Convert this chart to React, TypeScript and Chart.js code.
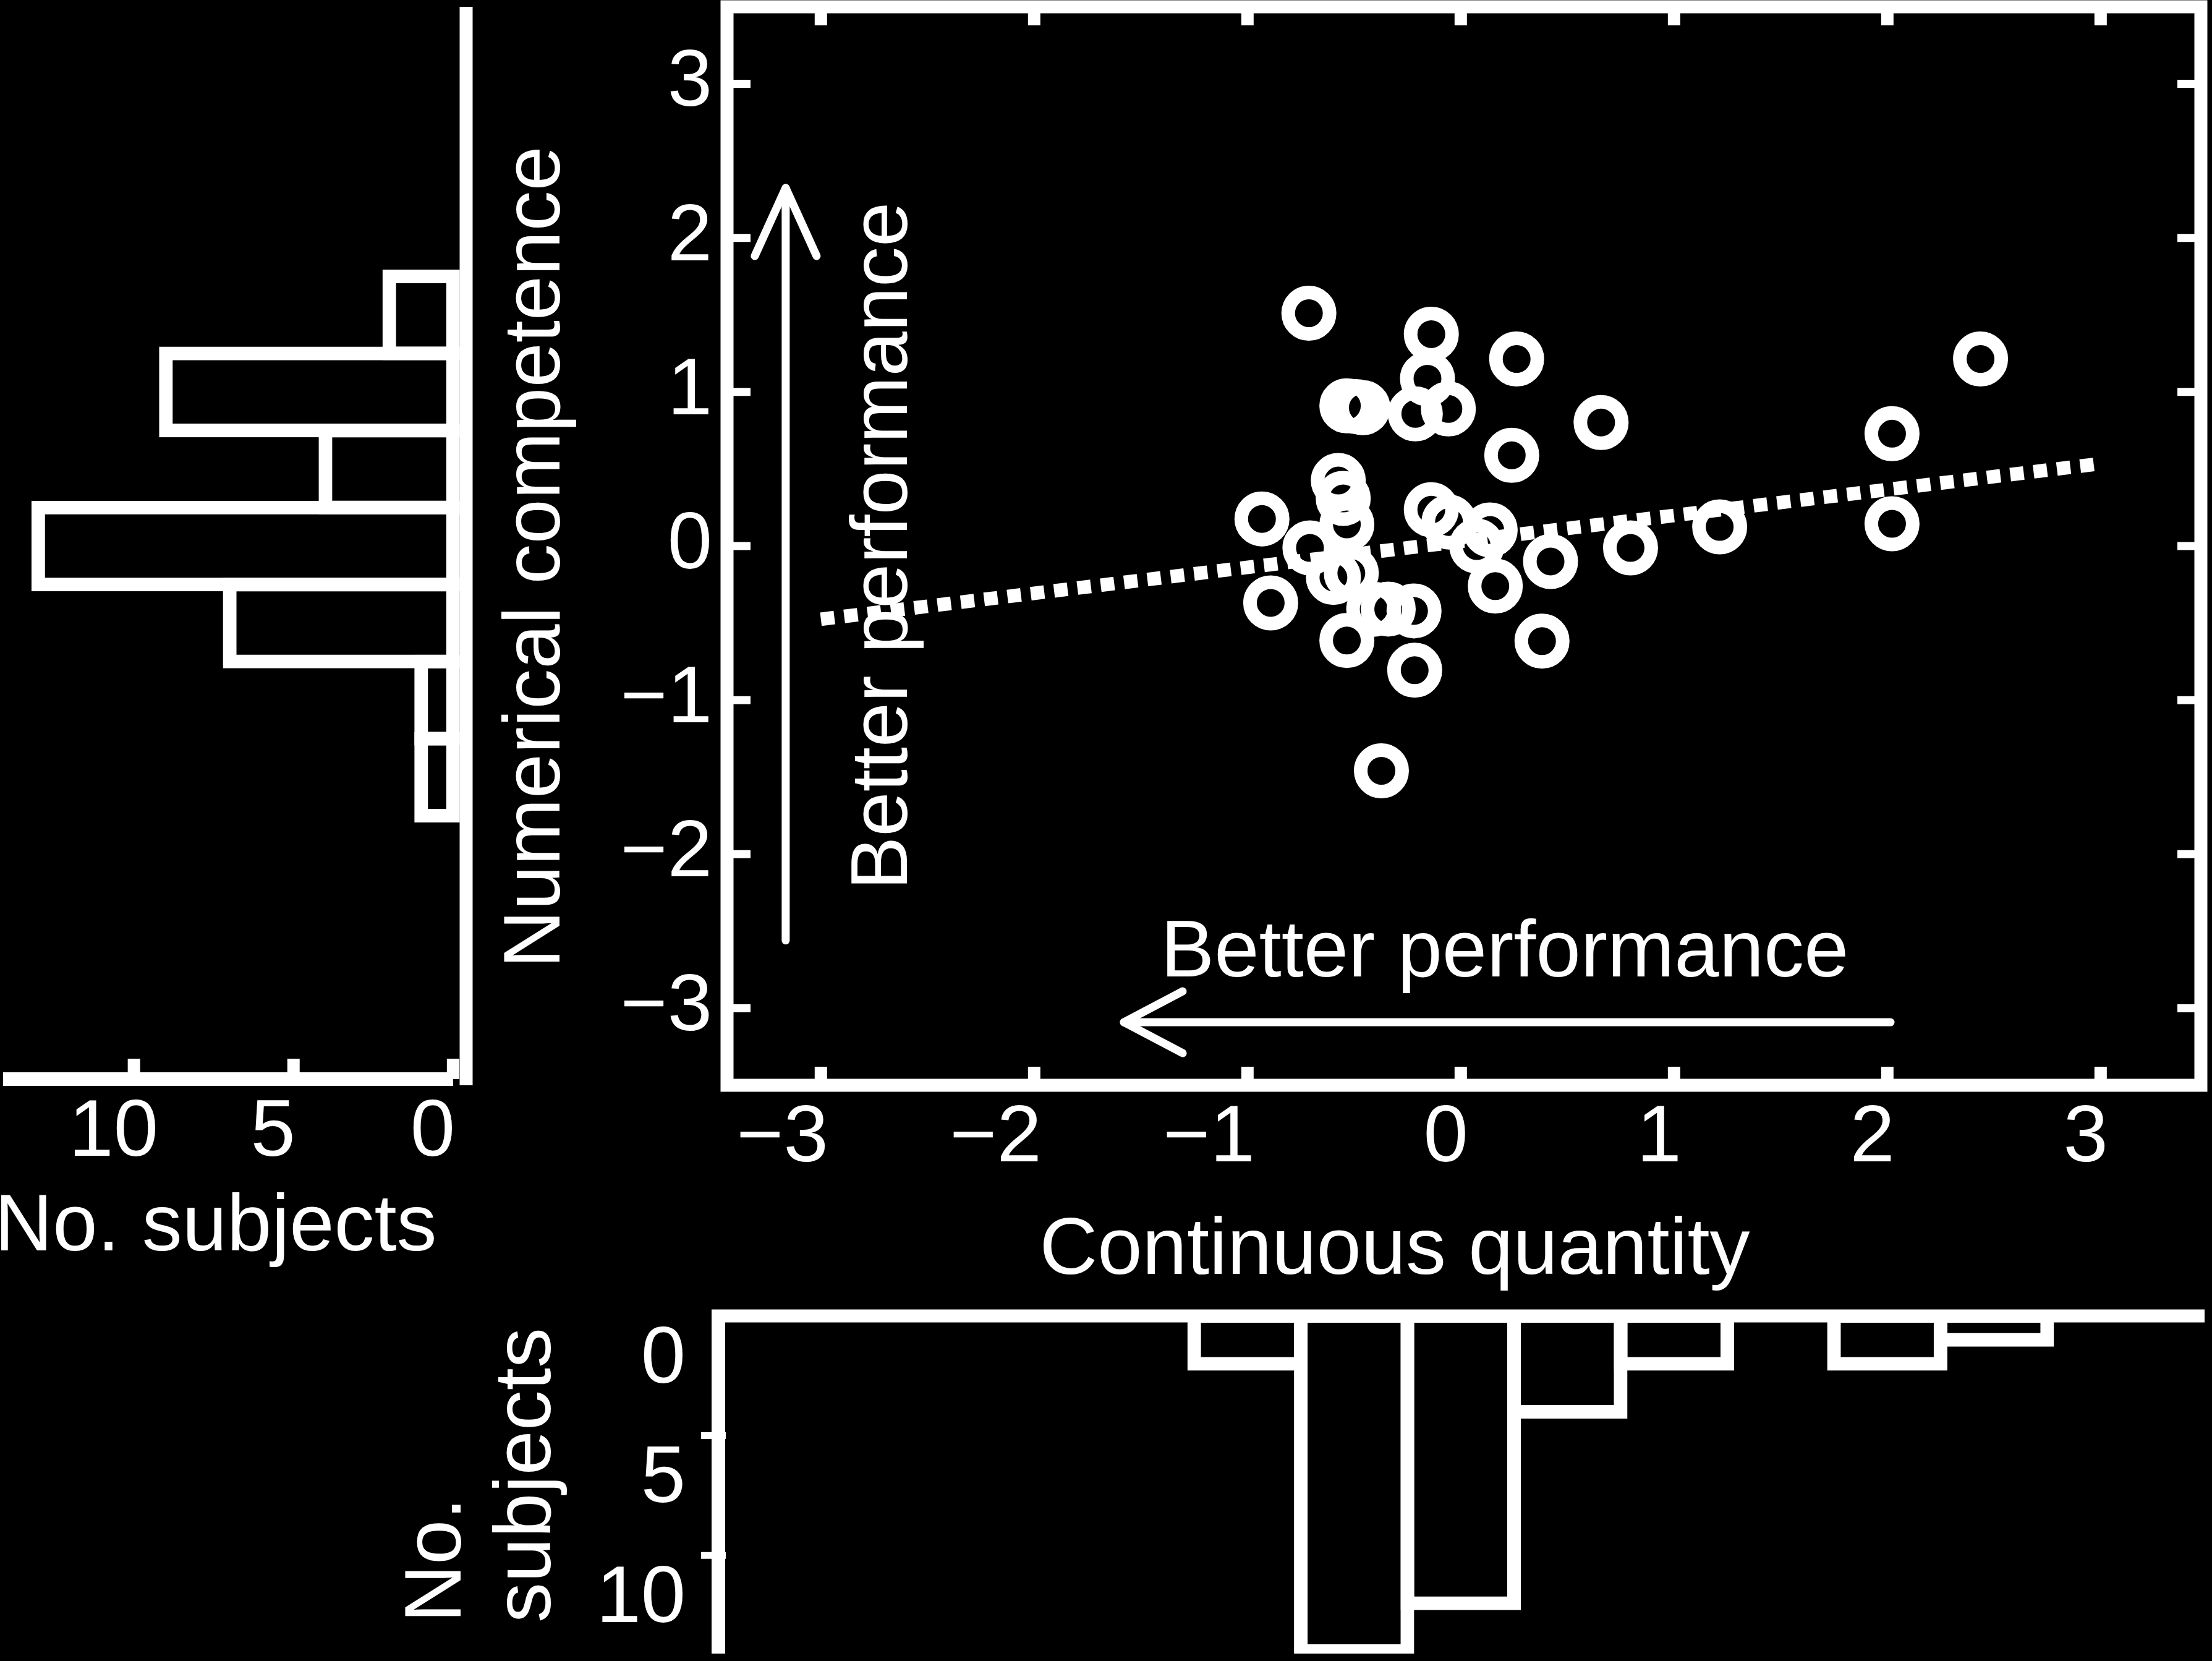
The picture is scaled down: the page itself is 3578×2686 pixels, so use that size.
import React, { useEffect, useRef } from 'react';
import { Chart, registerables } from 'chart.js';

Chart.register(...registerables);

// ---------------- data ----------------
const continuousQuantity = [
  -0.712, -0.138, 0.262, -0.156, -0.534, -0.49, -0.459, -0.213, -0.058, 0.658,
  0.239, -0.574, -0.551, -0.534, -0.932, -0.138, -0.055, 0.138, 0.075, -0.707,
  -0.597, -0.513, 0.162, 0.421, 0.796, 1.214, -0.891, -0.408, -0.34, -0.219,
  -0.534, 0.381, -0.216, -0.372, 2.022, 2.022, 2.437,
];
const numericalCompetence = [
  1.511, 1.375, 1.214, 1.086, 0.91, 0.905, 0.898, 0.858, 0.89, 0.802,
  0.589, 0.425, 0.309, 0.14, 0.176, 0.236, 0.156, 0.104, 0.0, -0.012,
  -0.204, -0.176, -0.26, -0.1, -0.012, 0.124, -0.369, -0.41, -0.409, -0.421,
  -0.613, -0.617, -0.806, -1.459, 0.729, 0.144, 1.214,
];

const fitX = [-3.0, 2.97];
const fitY = [-0.475, 0.53];

const yBinCenters = [1.5, 1.0, 0.5, 0.0, -0.5, -1.0, -1.5];
const yBinCounts = [2, 9, 4, 13, 7, 1, 1];
const xBinCenters = [-1.0, -0.5, 0.0, 0.5, 1.0, 1.5, 2.0, 2.5];
const xBinCounts = [2, 14, 12, 4, 2, 0, 2, 1];

const mainTicks = [-3, -2, -1, 0, 1, 2, 3];
const mainTickLabels = ['\u22123', '\u22122', '\u22121', '0', '1', '2', '3'];
const countTicks = [0, 5, 10];
const countTickLabels = ['0', '5', '10'];

const xTitle = 'Continuous quantity';
const yTitle = 'Numerical competence';
const countTitle = 'No. subjects';
const countTitleLines = ['No.', 'subjects'];
const arrowText = 'Better performance';

// annotation anchors in data units of the scatter panel
const verticalArrow = { x: -3.165, yFrom: -2.56, yTo: 2.324 };
const horizontalArrow = { y: -3.091, xFrom: 2.015, xTo: -1.579 };
const horizontalTextAnchor = { x: 0.206, y: -2.794 };
const verticalTextAnchor = { x: -2.597, y: 0.0 };

// ---------------- layout / style ----------------
const PAGE_W = 3578;
const PAGE_H = 2686;
const FONT_FAMILY = '"Liberation Sans", Arial, Helvetica, sans-serif';
const FONT_SIZE = 130;
const WHITE = '#ffffff';
const FONT_CSS = `${FONT_SIZE}px ${FONT_FAMILY}`;

const MAIN_AREA = { left: 1176, right: 3560, top: 11, bottom: 1755 };
const LEFT_AREA = { left: 5, right: 754, top: 11, bottom: 1745 };
const BOTTOM_AREA = { left: 1162, right: 3566, top: 2128, bottom: 2674 };

const fixedTicks = (values: number[]) => (scale: any) => {
  scale.ticks = values.map((v) => ({ value: v }));
};
const fixSize = (size: number) => (scale: any) => {
  if (scale.isHorizontal()) scale.height = size;
  else scale.width = size;
  scale.paddingLeft = 0;
  scale.paddingRight = 0;
  scale.paddingTop = 0;
  scale.paddingBottom = 0;
};

function strokeLine(ctx: CanvasRenderingContext2D, x1: number, y1: number, x2: number, y2: number) {
  ctx.beginPath();
  ctx.moveTo(x1, y1);
  ctx.lineTo(x2, y2);
  ctx.stroke();
}

function rotatedText(ctx: CanvasRenderingContext2D, text: string, x: number, y: number, align: CanvasTextAlign) {
  ctx.save();
  ctx.translate(x, y);
  ctx.rotate(-Math.PI / 2);
  ctx.textAlign = align;
  ctx.textBaseline = 'alphabetic';
  ctx.fillText(text, 0, 0);
  ctx.restore();
}

const tickFont = { family: FONT_FAMILY, size: FONT_SIZE };
const noGrid = { display: false, drawTicks: false };
const noBorder = { display: false };

const common = {
  responsive: false,
  maintainAspectRatio: false,
  animation: false as const,
  devicePixelRatio: 1,
  events: [] as any[],
  plugins: { legend: { display: false }, tooltip: { enabled: false }, title: { display: false } },
};

// ---------------- main scatter ----------------
function mainConfig(): any {
  const decor = {
    id: 'mainDecor',
    afterDraw(chart: any) {
      const { ctx, chartArea: a } = chart;
      const xs = chart.scales.x;
      const ys = chart.scales.y;
      ctx.save();
      ctx.strokeStyle = WHITE;
      ctx.fillStyle = WHITE;
      ctx.lineJoin = 'miter';
      ctx.lineWidth = 21;
      ctx.strokeRect(a.left, a.top, a.right - a.left, a.bottom - a.top);
      ctx.lineCap = 'butt';
      ctx.lineWidth = 20;
      mainTicks.forEach((v) => {
        const px = xs.getPixelForValue(v);
        strokeLine(ctx, px, a.bottom, px, a.bottom - 30);
        strokeLine(ctx, px, a.top, px, a.top + 30);
      });
      ctx.lineWidth = 13;
      mainTicks.forEach((v) => {
        const py = ys.getPixelForValue(v);
        strokeLine(ctx, a.left, py, a.left + 38, py);
        strokeLine(ctx, a.right, py, a.right - 38, py);
      });

      // arrows
      ctx.lineWidth = 13;
      ctx.lineCap = 'round';
      ctx.lineJoin = 'round';
      const vx = xs.getPixelForValue(verticalArrow.x);
      const vy0 = ys.getPixelForValue(verticalArrow.yFrom);
      const vy1 = ys.getPixelForValue(verticalArrow.yTo);
      strokeLine(ctx, vx, vy0, vx, vy1);
      ctx.beginPath();
      ctx.moveTo(vx - 50, vy1 + 110);
      ctx.lineTo(vx, vy1);
      ctx.lineTo(vx + 50, vy1 + 110);
      ctx.stroke();

      const hy = ys.getPixelForValue(horizontalArrow.y);
      const hx0 = xs.getPixelForValue(horizontalArrow.xFrom);
      const hx1 = xs.getPixelForValue(horizontalArrow.xTo);
      strokeLine(ctx, hx0, hy, hx1, hy);
      ctx.beginPath();
      ctx.moveTo(hx1 + 95, hy - 50);
      ctx.lineTo(hx1, hy);
      ctx.lineTo(hx1 + 95, hy + 50);
      ctx.stroke();

      // texts
      ctx.font = FONT_CSS;
      ctx.textAlign = 'center';
      ctx.textBaseline = 'alphabetic';
      ctx.fillText(arrowText, xs.getPixelForValue(horizontalTextAnchor.x), ys.getPixelForValue(horizontalTextAnchor.y));
      rotatedText(ctx, arrowText, xs.getPixelForValue(verticalTextAnchor.x), ys.getPixelForValue(verticalTextAnchor.y), 'center');

      // axis titles
      ctx.fillText(xTitle, (a.left + a.right) / 2 - 112, a.bottom + 305);
      rotatedText(ctx, yTitle, a.left - 271, (a.top + a.bottom) / 2 + 18, 'center');
      ctx.restore();
    },
  };

  return {
    type: 'scatter',
    data: {
      datasets: [
        {
          type: 'scatter',
          data: continuousQuantity.map((x, i) => ({ x, y: numericalCompetence[i] })),
          pointStyle: 'circle',
          pointRadius: 33.5,
          pointHoverRadius: 33.5,
          pointBorderWidth: 22,
          pointHoverBorderWidth: 22,
          pointBorderColor: WHITE,
          pointBackgroundColor: 'rgba(0,0,0,0)',
        },
        {
          type: 'line',
          data: fitX.map((x, i) => ({ x, y: fitY[i] })),
          borderColor: WHITE,
          borderWidth: 22,
          borderDash: [22, 16],
          borderCapStyle: 'butt',
          pointRadius: 0,
          fill: false,
          tension: 0,
        },
      ],
    },
    options: {
      ...common,
      layout: {
        autoPadding: false,
        padding: {
          left: MAIN_AREA.left - 300,
          right: PAGE_W - MAIN_AREA.right,
          top: MAIN_AREA.top,
          bottom: PAGE_H - MAIN_AREA.bottom - 300,
        },
      },
      scales: {
        x: {
          type: 'linear',
          position: 'bottom',
          min: -3.44,
          max: 3.47,
          grid: noGrid,
          border: noBorder,
          afterBuildTicks: fixedTicks(mainTicks),
          afterFit: fixSize(300),
          ticks: {
            color: WHITE,
            font: tickFont,
            padding: 9,
            align: 'end',
            labelOffset: 12,
            maxRotation: 0,
            minRotation: 0,
            autoSkip: false,
            callback: (_v: any, i: number) => mainTickLabels[i],
          },
        },
        y: {
          type: 'linear',
          position: 'left',
          min: -3.5,
          max: 3.5,
          grid: noGrid,
          border: noBorder,
          afterBuildTicks: fixedTicks(mainTicks),
          afterFit: fixSize(300),
          ticks: {
            color: WHITE,
            font: tickFont,
            padding: 24,
            autoSkip: false,
            callback: (_v: any, i: number) => mainTickLabels[i],
          },
        },
      },
    },
    plugins: [decor],
  };
}

// ---------------- left histogram (numerical competence) ----------------
function leftConfig(): any {
  const decor = {
    id: 'leftDecor',
    afterDraw(chart: any) {
      const { ctx, chartArea: a } = chart;
      const xs = chart.scales.x;
      const zero = xs.getPixelForValue(0);
      ctx.save();
      ctx.strokeStyle = WHITE;
      ctx.fillStyle = WHITE;
      ctx.lineCap = 'butt';
      ctx.lineWidth = 21;
      strokeLine(ctx, a.right, a.top, a.right, a.bottom + 10);
      ctx.lineWidth = 22;
      strokeLine(ctx, a.left, a.bottom, zero, a.bottom);
      ctx.lineWidth = 20;
      countTicks.forEach((c) => {
        const px = xs.getPixelForValue(c);
        strokeLine(ctx, px, a.bottom, px, a.bottom - 33);
      });
      ctx.font = FONT_CSS;
      ctx.textAlign = 'center';
      ctx.textBaseline = 'alphabetic';
      ctx.fillText(countTitle, (a.left + zero) / 2 - 20, a.bottom + 277);
      ctx.restore();
    },
  };
  return {
    type: 'bar',
    data: {
      datasets: [
        {
          data: yBinCenters.map((c, i) => ({ x: yBinCounts[i], y: c })),
          borderColor: WHITE,
          backgroundColor: 'rgba(0,0,0,0)',
          borderWidth: 0.01,
          inflateAmount: 11,
          borderSkipped: false,
          barPercentage: 1,
          categoryPercentage: 1,
        },
      ],
    },
    options: {
      ...common,
      indexAxis: 'y',
      layout: {
        autoPadding: false,
        padding: {
          left: LEFT_AREA.left,
          right: PAGE_W - LEFT_AREA.right,
          top: LEFT_AREA.top,
          bottom: PAGE_H - LEFT_AREA.bottom - 300,
        },
      },
      scales: {
        x: {
          type: 'linear',
          position: 'bottom',
          reverse: true,
          min: -0.41,
          max: 14.1,
          grid: noGrid,
          border: noBorder,
          afterBuildTicks: fixedTicks(countTicks),
          afterFit: fixSize(300),
          ticks: {
            color: WHITE,
            font: tickFont,
            padding: 10,
            labelOffset: -33,
            maxRotation: 0,
            minRotation: 0,
            autoSkip: false,
            callback: (_v: any, i: number) => countTickLabels[i],
          },
        },
        y: {
          type: 'linear',
          display: false,
          offset: false,
          min: -3.46,
          max: 3.5,
          afterBuildTicks: fixedTicks(yBinCenters),
        },
      },
    },
    plugins: [decor],
  };
}

// ---------------- bottom histogram (continuous quantity) ----------------
function bottomConfig(): any {
  const decor = {
    id: 'bottomDecor',
    afterDraw(chart: any) {
      const { ctx, chartArea: a } = chart;
      const ys = chart.scales.y;
      ctx.save();
      ctx.strokeStyle = WHITE;
      ctx.fillStyle = WHITE;
      ctx.lineCap = 'butt';
      ctx.lineWidth = 21;
      strokeLine(ctx, a.left - 11, a.top, a.right, a.top);
      ctx.lineWidth = 22;
      strokeLine(ctx, a.left, a.top, a.left, a.bottom);
      ctx.lineWidth = 11;
      countTicks.slice(1).forEach((c) => {
        const py = ys.getPixelForValue(c);
        strokeLine(ctx, a.left - 28, py, a.left + 12, py);
      });
      ctx.font = FONT_CSS;
      rotatedText(ctx, countTitleLines[0], a.left - 417, a.bottom - 50, 'left');
      rotatedText(ctx, countTitleLines[1], a.left - 272, a.bottom - 50, 'left');
      ctx.restore();
    },
  };
  return {
    type: 'bar',
    data: {
      datasets: [
        {
          data: xBinCenters.map((c, i) => ({ x: c, y: xBinCounts[i] })),
          borderColor: WHITE,
          backgroundColor: 'rgba(0,0,0,0)',
          borderWidth: 0.01,
          inflateAmount: 11,
          borderSkipped: false,
          barPercentage: 1,
          categoryPercentage: 1,
        },
      ],
    },
    options: {
      ...common,
      layout: {
        autoPadding: false,
        padding: {
          left: BOTTOM_AREA.left - 300,
          right: PAGE_W - BOTTOM_AREA.right,
          top: BOTTOM_AREA.top,
          bottom: PAGE_H - BOTTOM_AREA.bottom,
        },
      },
      scales: {
        x: {
          type: 'linear',
          display: false,
          offset: false,
          min: -3.481,
          max: 3.488,
          afterBuildTicks: fixedTicks(xBinCenters),
        },
        y: {
          type: 'linear',
          position: 'left',
          reverse: true,
          min: 0,
          max: 14.1,
          grid: noGrid,
          border: noBorder,
          afterBuildTicks: fixedTicks(countTicks),
          afterFit: fixSize(300),
          ticks: {
            color: WHITE,
            font: tickFont,
            padding: 53,
            labelOffset: 72,
            autoSkip: false,
            callback: (_v: any, i: number) => countTickLabels[i],
          },
        },
      },
    },
    plugins: [decor],
  };
}

export default function App() {
  const mainRef = useRef<HTMLCanvasElement>(null);
  const leftRef = useRef<HTMLCanvasElement>(null);
  const bottomRef = useRef<HTMLCanvasElement>(null);

  useEffect(() => {
    document.body.style.margin = '0';
    document.body.style.background = '#000';
    const charts = [
      new Chart(leftRef.current as HTMLCanvasElement, leftConfig()),
      new Chart(bottomRef.current as HTMLCanvasElement, bottomConfig()),
      new Chart(mainRef.current as HTMLCanvasElement, mainConfig()),
    ];
    return () => charts.forEach((c) => c.destroy());
  }, []);

  const canvasStyle: React.CSSProperties = {
    position: 'absolute',
    left: 0,
    top: 0,
    width: PAGE_W,
    height: PAGE_H,
  };

  return (
    <div
      style={{
        position: 'absolute',
        left: 0,
        top: 0,
        width: PAGE_W,
        height: PAGE_H,
        background: '#000',
        overflow: 'hidden',
      }}
    >
      <canvas ref={leftRef} width={PAGE_W} height={PAGE_H} style={canvasStyle} />
      <canvas ref={bottomRef} width={PAGE_W} height={PAGE_H} style={canvasStyle} />
      <canvas ref={mainRef} width={PAGE_W} height={PAGE_H} style={canvasStyle} />
    </div>
  );
}
